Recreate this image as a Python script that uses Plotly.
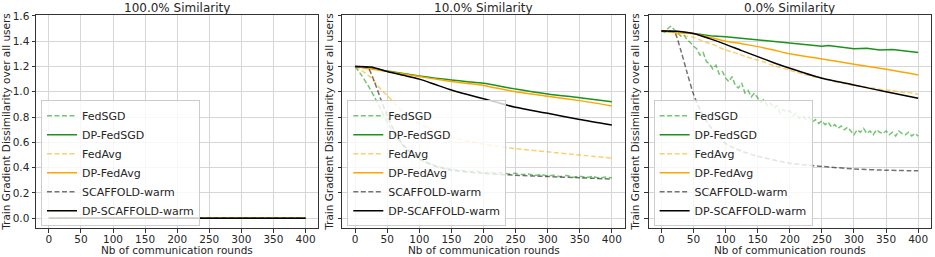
import plotly.graph_objects as go

# ---------------- data ----------------
methods = ["FedSGD", "DP-FedSGD", "FedAvg", "DP-FedAvg", "SCAFFOLD-warm", "DP-SCAFFOLD-warm"]
titles = ["100.0% Similarity", "10.0% Similarity", "0.0% Similarity"]
x_title = "Nb of communication rounds"
y_title = "Train Gradient Dissimilarity over all users"
x_ticks = [0, 50, 100, 150, 200, 250, 300, 350, 400]
y_ticks = [0.0, 0.2, 0.4, 0.6, 0.8, 1.0, 1.2, 1.4, 1.6]

# 100% similarity: every method is flat at zero
rounds_100 = [0, 100, 200, 300, 400]
zero_100 = [0.0, 0.0, 0.0, 0.0, 0.0]

# 10% similarity
rounds_10_sgd = list(range(0, 401, 10))
fedsgd_10 = [1.20, 1.13, 1.05, 0.96, 0.86, 0.76, 0.67, 0.60, 0.545, 0.50,
             0.47, 0.445, 0.425, 0.41, 0.395, 0.39, 0.38, 0.375, 0.37, 0.372,
             0.36, 0.365, 0.355, 0.36, 0.35, 0.355, 0.345, 0.35, 0.34, 0.345,
             0.335, 0.34, 0.33, 0.338, 0.325, 0.333, 0.322, 0.33, 0.318, 0.327,
             0.318]
rounds_10 = [0, 25, 50, 75, 100, 125, 150, 175, 200, 250, 300, 350, 400]
dp_fedsgd_10 = [1.20, 1.185, 1.164, 1.145, 1.125, 1.108, 1.093, 1.08, 1.067, 1.022, 0.983, 0.953, 0.922]
dp_fedavg_10 = [1.20, 1.18, 1.16, 1.14, 1.12, 1.10, 1.082, 1.066, 1.05, 1.00, 0.965, 0.93, 0.888]
dp_scaffold_10 = [1.20, 1.195, 1.16, 1.13, 1.10, 1.057, 1.014, 0.978, 0.945, 0.877, 0.83, 0.78, 0.737]
rounds_10_avg = [0, 10, 25, 40, 50, 75, 100, 125, 150, 200, 250, 300, 350, 400]
fedavg_10 = [1.20, 1.17, 1.11, 1.02, 0.97, 0.84, 0.75, 0.69, 0.64, 0.585, 0.55, 0.525, 0.50, 0.475]
rounds_10_scaf = [0, 10, 20, 30, 40, 50, 60, 75, 100, 125, 150, 200, 250, 300, 350, 400]
scaffold_10 = [1.20, 1.20, 1.19, 1.08, 0.94, 0.81, 0.70, 0.58, 0.47, 0.41, 0.38, 0.355, 0.34, 0.33, 0.32, 0.31]

# 0% similarity
rounds_0_sgd = list(range(0, 401, 5))
fedsgd_0 = [1.48, 1.47, 1.50, 1.52, 1.49, 1.47, 1.44, 1.45, 1.41, 1.39,
            1.36, 1.34, 1.29, 1.31, 1.24, 1.22, 1.18, 1.21, 1.14, 1.16,
            1.11,
            1.08, 1.12, 1.05, 1.03, 1.07, 0.99, 1.01, 0.96, 0.99, 0.95,
            0.92, 0.94, 0.89, 0.91, 0.87, 0.89, 0.83, 0.86, 0.84, 0.85,
            0.81, 0.83, 0.79, 0.81, 0.78, 0.80, 0.76, 0.78, 0.75, 0.77,
            0.74, 0.76, 0.72, 0.74, 0.71, 0.73, 0.70, 0.72, 0.69, 0.66,
            0.70, 0.68, 0.71, 0.67, 0.69, 0.66, 0.70, 0.68, 0.67, 0.69,
            0.66, 0.68, 0.65, 0.69, 0.67, 0.66, 0.68, 0.65, 0.67, 0.65]
rounds_0_dpsgd = [0, 20, 40, 60, 80, 100, 120, 140, 160, 180, 200, 220, 240, 250, 260, 280, 300, 320, 340, 360, 380, 400]
dp_fedsgd_0 = [1.48, 1.475, 1.465, 1.455, 1.44, 1.435, 1.425, 1.42, 1.41, 1.40, 1.39,
               1.375, 1.37, 1.36, 1.365, 1.355, 1.34, 1.345, 1.33, 1.335, 1.32, 1.31]
rounds_0_avg = list(range(0, 401, 10))
fedavg_0 = [1.48, 1.475, 1.465, 1.45, 1.44, 1.43, 1.41, 1.39, 1.375, 1.35,
            1.33, 1.315, 1.30, 1.28, 1.265, 1.25, 1.235, 1.215, 1.20, 1.185,
            1.17, 1.155, 1.14, 1.13, 1.115, 1.107, 1.095, 1.08, 1.07, 1.06,
            1.048, 1.045, 1.035, 1.03, 1.02, 1.014, 1.01, 1.0, 0.995, 0.99,
            0.98]
rounds_0 = [0, 25, 50, 75, 100, 125, 150, 175, 200, 250, 300, 350, 400]
dp_fedavg_0 = [1.48, 1.47, 1.46, 1.43, 1.40, 1.38, 1.357, 1.33, 1.30, 1.26, 1.217, 1.178, 1.133]
dp_scaffold_0 = [1.48, 1.478, 1.46, 1.42, 1.375, 1.325, 1.278, 1.23, 1.186, 1.107, 1.054, 1.0, 0.949]
rounds_0_scaf = [0, 10, 20, 30, 40, 50, 60, 75, 100, 125, 150, 200, 250, 300, 350, 400]
scaffold_0 = [1.48, 1.48, 1.475, 1.33, 1.15, 0.98, 0.86, 0.73, 0.59, 0.53, 0.49, 0.435, 0.41, 0.39, 0.38, 0.375]

panels = [
    {  # 100%
        "FedSGD": (rounds_100, zero_100), "DP-FedSGD": (rounds_100, zero_100),
        "FedAvg": (rounds_100, zero_100), "DP-FedAvg": (rounds_100, zero_100),
        "SCAFFOLD-warm": (rounds_100, zero_100), "DP-SCAFFOLD-warm": (rounds_100, zero_100),
    },
    {  # 10%
        "FedSGD": (rounds_10_sgd, fedsgd_10), "DP-FedSGD": (rounds_10, dp_fedsgd_10),
        "FedAvg": (rounds_10_avg, fedavg_10), "DP-FedAvg": (rounds_10, dp_fedavg_10),
        "SCAFFOLD-warm": (rounds_10_scaf, scaffold_10), "DP-SCAFFOLD-warm": (rounds_10, dp_scaffold_10),
    },
    {  # 0%
        "FedSGD": (rounds_0_sgd, fedsgd_0), "DP-FedSGD": (rounds_0_dpsgd, dp_fedsgd_0),
        "FedAvg": (rounds_0_avg, fedavg_0), "DP-FedAvg": (rounds_0, dp_fedavg_0),
        "SCAFFOLD-warm": (rounds_0_scaf, scaffold_0), "DP-SCAFFOLD-warm": (rounds_0, dp_scaffold_0),
    },
]

# ---------------- styles ----------------
DASH = "5px,2.5px"
styles = {
    "FedSGD": dict(color="rgba(20,160,20,0.6)", dash=DASH),
    "DP-FedSGD": dict(color="#1a931a", dash="solid"),
    "FedAvg": dict(color="rgba(255,165,0,0.55)", dash=DASH),
    "DP-FedAvg": dict(color="#FFA500", dash="solid"),
    "SCAFFOLD-warm": dict(color="rgba(0,0,0,0.55)", dash=DASH),
    "DP-SCAFFOLD-warm": dict(color="#000000", dash="solid"),
}

FONT = "DejaVu Sans"
TXT = "#262626"
W, H = 935, 257
ML, MR, MT, MB = 35, 3, 15, 29
PW = W - ML - MR
PH = H - MT - MB
left_px = [35, 342, 649]
right_px = [318, 625, 932]
domains = [[(l - ML) / PW, min(1.0, (r - ML) / PW)] for l, r in zip(left_px, right_px)]

fig = go.Figure()
for i, panel in enumerate(panels):
    xa = "x" if i == 0 else f"x{i+1}"
    ya = "y" if i == 0 else f"y{i+1}"
    lg = "legend" if i == 0 else f"legend{i+1}"
    for m in methods:
        xs, ys = panel[m]
        st = styles[m]
        noisy = (m == "FedSGD" and i == 2) or (m == "DP-FedSGD" and i == 2)
        fig.add_trace(go.Scatter(
            x=xs, y=ys, mode="lines", name=m, xaxis=xa, yaxis=ya, legend=lg,
            line=dict(color=st["color"], dash=st["dash"], width=1.5,
                      shape="linear" if noisy else "spline", smoothing=0.6),
            showlegend=True,
        ))

axis_common = dict(
    showline=True, linecolor="#333333", linewidth=1, mirror=True,
    ticks="outside", ticklen=3.5, tickwidth=1, tickcolor="#333333",
    showgrid=True, gridcolor="#d6d6d6", gridwidth=1, zeroline=False,
    tickfont=dict(family=FONT, size=10.5, color=TXT),
)
layout = dict(
    width=W, height=H, margin=dict(l=ML, r=MR, t=MT, b=MB),
    plot_bgcolor="white", paper_bgcolor="white",
    font=dict(family=FONT, size=10.5, color=TXT),
)
annotations = []
for i in range(3):
    xk = "xaxis" if i == 0 else f"xaxis{i+1}"
    yk = "yaxis" if i == 0 else f"yaxis{i+1}"
    ya = "y" if i == 0 else f"y{i+1}"
    xa = "x" if i == 0 else f"x{i+1}"
    layout[xk] = dict(axis_common, domain=domains[i], range=[-20, 420], tickvals=x_ticks,
                      anchor=ya, ticklabelstandoff=-2)
    layout[yk] = dict(axis_common, domain=[0, 1], range=[-0.077, 1.607], tickvals=y_ticks,
                      tickformat=".1f", anchor=xa, showticklabels=(i == 0),
                      title=dict(text=y_title, standoff=2,
                                 font=dict(family=FONT, size=10.5, color=TXT)))
    lg = "legend" if i == 0 else f"legend{i+1}"
    layout[lg] = dict(x=(left_px[i] + 5 - ML) / PW, y=0.008, xanchor="left", yanchor="bottom",
                      bgcolor="rgba(255,255,255,0.8)", bordercolor="#cccccc", borderwidth=1,
                      font=dict(family=FONT, size=11, color=TXT),
                      itemwidth=30, tracegroupgap=0)
    cx = (domains[i][0] + domains[i][1]) / 2
    annotations.append(dict(text=titles[i], xref="paper", yref="paper",
                            x=cx, y=1, xanchor="center", yanchor="bottom", yshift=-2,
                            showarrow=False, font=dict(family=FONT, size=12, color=TXT)))
    annotations.append(dict(text=x_title, xref="paper", yref="paper",
                            x=cx, y=-(250 - (H - MB)) / PH, xanchor="center", yanchor="middle",
                            showarrow=False, font=dict(family=FONT, size=10.5, color=TXT)))
layout["annotations"] = annotations
fig.update_layout(**layout)
fig.write_html("out.html", config={"displayModeBar": False},
               post_script="document.body.style.margin='0';document.body.style.overflow='hidden';")
